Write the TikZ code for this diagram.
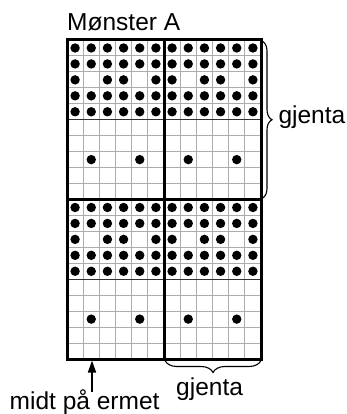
\documentclass[tikz,border=0pt]{standalone}
\usepackage{fontspec}
\setmainfont{Liberation Sans}
\usetikzlibrary{decorations.pathreplacing,arrows.meta}
\begin{document}
\begin{tikzpicture}[x=1pt,y=-1pt,
  gridline/.style={gray!65,line width=0.9pt},
  darkline/.style={gray!40!black,line width=1pt},
  frame/.style={black,line width=3pt,line join=miter},
  lbl/.style={font=\fontsize{24.5}{28}\selectfont,inner sep=0pt},
  bracestyle/.style={decorate,line width=1.1pt}]
\useasboundingbox (0,0) rectangle (347,414);
\def\cw{16.1667}\def\rh{15.95}
\def\L{67}\def\T{40}
% thin grid lines
\foreach \i in {1,...,11}
  \draw[gridline] ({\L+\i*\cw},\T) -- ({\L+\i*\cw},{\T+20*\rh});
\foreach \j in {1,...,19}
  \draw[gridline] (\L,{\T+\j*\rh}) -- ({\L+12*\cw},{\T+\j*\rh});
\foreach \j in {5,15}
  \draw[darkline] (\L,{\T+\j*\rh}) -- ({\L+12*\cw},{\T+\j*\rh});
% dots
\foreach \b in {0,10}{
  \foreach \h in {0,6}{
    \foreach \r in {1,2,4,5}{
      \foreach \c in {1,...,6}
        \fill ({\L+(\h+\c-0.5)*\cw},{\T+(\b+\r-0.5)*\rh}) circle (4.7);
    }
    \foreach \c in {1,3,4,6}
      \fill ({\L+(\h+\c-0.5)*\cw},{\T+(\b+2.5)*\rh}) circle (4.7);
    \foreach \c in {2,5}
      \fill ({\L+(\h+\c-0.5)*\cw},{\T+(\b+7.5)*\rh}) circle (4.7);
  }
}
% thick frame
\draw[frame] (\L,\T) rectangle ({\L+12*\cw},{\T+20*\rh});
\draw[frame] ({\L+6*\cw},\T) -- ({\L+6*\cw},{\T+20*\rh});
\draw[frame] (\L,{\T+10*\rh}) -- ({\L+12*\cw},{\T+10*\rh});
% braces
\coordinate (rb1) at ({\L+12*\cw+1},{\T+1});
\coordinate (rb2) at ({\L+12*\cw+1},{\T+10*\rh-1});
\draw[bracestyle,decoration={brace,amplitude=10pt}] (rb1) -- (rb2);
\coordinate (bb1) at ({\L+12*\cw},{\T+20*\rh+1.5});
\coordinate (bb2) at ({\L+6*\cw+1},{\T+20*\rh+1.5});
\draw[bracestyle,decoration={brace,amplitude=12pt}] (bb1) -- (bb2);
% labels
\node[lbl,anchor=base west] (title) at (67,30.7) {Mønster A};
\node[lbl,anchor=base east] (rep1) at (345.5,123.3) {gjenta};
\node[lbl,anchor=base west] (rep2) at (176,395) {gjenta};
\node[lbl,anchor=base west] (mid) at (9.5,409.5) {midt på ermet};
% arrow
\coordinate (atip) at (92,{\T+20*\rh+1.5});
\coordinate (atail) at (92,392);
\draw[line width=1.5pt,-{Triangle[length=12pt,width=8pt]}] (atail) -- (atip);
\end{tikzpicture}
\end{document}
